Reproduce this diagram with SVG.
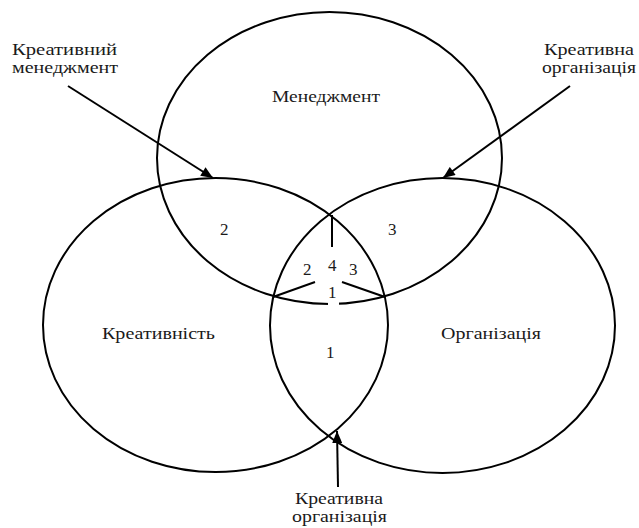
<svg xmlns="http://www.w3.org/2000/svg" width="639" height="528" viewBox="0 0 639 528">
  <style>
    .ell { fill: none; stroke: #000; stroke-width: 2; }
    .ln { fill: none; stroke: #000; stroke-width: 2; }
    .t { font-family: "Liberation Serif", "Times New Roman", serif; font-size: 17px; fill: #1a1a1a; }
    .s { font-size: 16px; }
  </style>
  <defs>
    <marker id="ah" viewBox="0 0 12 10" refX="12" refY="5" markerWidth="13" markerHeight="10" markerUnits="userSpaceOnUse" orient="auto">
      <path d="M0,0 L12,5 L0,10 z" fill="#000"/>
    </marker>
  </defs>
  <rect width="639" height="528" fill="#fff"/>

  <g id="management">
    <ellipse class="ell" cx="329.5" cy="158" rx="172.5" ry="146"/>
    <text class="t" x="272" y="102" textLength="108" lengthAdjust="spacingAndGlyphs">Менеджмент</text>
  </g>
  <g id="creativity">
    <ellipse class="ell" cx="215.5" cy="325" rx="172.5" ry="147"/>
    <text class="t" x="102" y="339" textLength="113" lengthAdjust="spacingAndGlyphs">Креативність</text>
  </g>
  <g id="organization">
    <ellipse class="ell" cx="442.5" cy="325.5" rx="172.5" ry="147.5"/>
    <text class="t" x="441" y="339" textLength="100" lengthAdjust="spacingAndGlyphs">Організація</text>
  </g>

  <g id="region-labels">
    <text class="t" x="220" y="235">2</text>
    <text class="t" x="388" y="235">3</text>
    <text class="t" x="303" y="275">2</text>
    <text class="t" x="328" y="271">4</text>
    <text class="t" x="349" y="275">3</text>
    <rect x="328" y="302" width="11" height="5" fill="#fff"/>
    <text class="t" x="328" y="298">1</text>
    <text class="t" x="326" y="358">1</text>
  </g>

  <g id="center-lines">
    <line class="ln" x1="332" y1="215" x2="332" y2="247"/>
    <line class="ln" x1="273" y1="297" x2="315" y2="282"/>
    <line class="ln" x1="385" y1="297" x2="342" y2="282"/>
  </g>

  <g id="label-creative-management">
    <text class="t s" x="12" y="55" textLength="105" lengthAdjust="spacingAndGlyphs">Креативний</text>
    <text class="t s" x="12" y="73" textLength="106" lengthAdjust="spacingAndGlyphs">менеджмент</text>
  </g>
  <g id="label-creative-organization-top">
    <text class="t s" x="544" y="55" textLength="90" lengthAdjust="spacingAndGlyphs">Креативна</text>
    <text class="t s" x="542" y="73" textLength="94" lengthAdjust="spacingAndGlyphs">організація</text>
  </g>
  <g id="label-creative-organization-bottom">
    <text class="t s" x="295" y="504" textLength="88" lengthAdjust="spacingAndGlyphs">Креативна</text>
    <text class="t s" x="292" y="522" textLength="95" lengthAdjust="spacingAndGlyphs">організація</text>
  </g>

  <g id="connectors">
    <line class="ln" x1="68" y1="86" x2="213" y2="178" marker-end="url(#ah)"/>
    <line class="ln" x1="570" y1="86" x2="443" y2="178" marker-end="url(#ah)"/>
    <line class="ln" x1="338" y1="487" x2="337" y2="431" marker-end="url(#ah)"/>
  </g>
</svg>
